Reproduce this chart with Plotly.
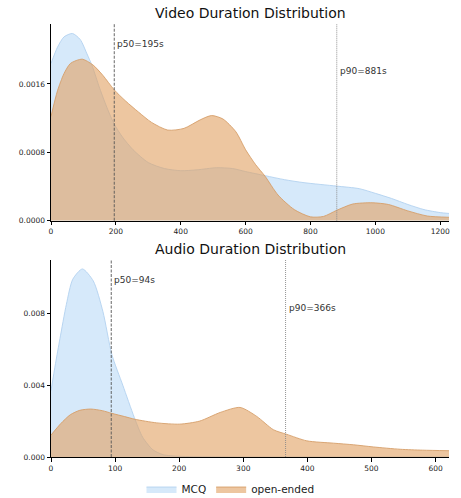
import plotly.graph_objects as go

# ---- data ----
video_mcq_x = [0, 20, 40, 66, 90, 110, 128, 150, 175, 195, 220, 253, 300, 350, 400, 450, 510, 560, 600, 660, 720, 780, 880, 950, 1000, 1050, 1100, 1150, 1200, 1227]
video_mcq_y = [0.00184, 0.00203, 0.00215, 0.00219, 0.00212, 0.00196, 0.00180, 0.00155, 0.00130, 0.00113, 0.00098, 0.00083, 0.00068, 0.00061, 0.000585, 0.000595, 0.000620, 0.000610, 0.000575, 0.000527, 0.000480, 0.000445, 0.000405, 0.000375, 0.00032, 0.00026, 0.00019, 0.00013, 0.000095, 0.000085]

video_open_x = [0, 20, 40, 60, 96, 130, 160, 195, 230, 270, 310, 360, 410, 460, 495, 530, 570, 600, 630, 660, 700, 750, 800, 840, 880, 930, 990, 1040, 1100, 1160, 1227]
video_open_y = [0.00122, 0.00152, 0.00172, 0.00184, 0.00189, 0.00182, 0.00170, 0.00153, 0.00140, 0.00127, 0.00115, 0.00106, 0.00108, 0.00118, 0.00123, 0.00119, 0.00104, 0.00083, 0.00066, 0.00052, 0.00030, 0.00013, 0.000045, 0.00005, 0.00012, 0.000195, 0.00021, 0.00019, 0.000115, 0.000055, 0.00004]

audio_mcq_x = [0, 7, 14, 24, 34, 49, 66, 81, 95, 112, 130, 143, 159, 175, 200, 250, 621]
audio_mcq_y = [0.0037, 0.0052, 0.0066, 0.0085, 0.0099, 0.01047, 0.0098, 0.0081, 0.0057, 0.0040, 0.0022, 0.0011, 0.0004, 0.00013, 0.00004, 0.00001, 0.0]

audio_open_x = [0, 15, 30, 45, 62, 80, 95, 115, 131, 165, 201, 232, 264, 295, 321, 347, 368, 399, 441, 472, 503, 545, 580, 621]
audio_open_y = [0.00122, 0.00185, 0.00235, 0.00260, 0.00267, 0.00258, 0.00243, 0.00225, 0.00210, 0.00190, 0.00183, 0.00200, 0.00248, 0.00276, 0.00226, 0.00152, 0.00126, 0.00090, 0.00077, 0.00068, 0.00056, 0.00043, 0.00038, 0.00035]

video_p50, video_p90 = 195, 881
audio_p50, audio_p90 = 94, 366

titles = ["Video Duration Distribution", "Audio Duration Distribution"]
series_names = ["MCQ", "open-ended"]

# ---- styles ----
FONT = "DejaVu Sans"
mcq_fill = "rgba(187,218,247,0.6)"
mcq_line = "rgba(178,210,240,0.9)"
open_fill = "rgba(225,160,97,0.6)"
open_line = "rgba(214,158,105,0.9)"

fig = go.Figure()

def add_pair(mx, my, ox, oy, xa, ya, show):
    fig.add_trace(go.Scatter(x=mx, y=my, mode="lines", fill="tozeroy",
                             fillcolor=mcq_fill, line=dict(color=mcq_line, width=1, shape="spline", smoothing=0.7),
                             name=series_names[0], showlegend=show, legendgroup="mcq",
                             xaxis=xa, yaxis=ya, hoverinfo="skip"))
    fig.add_trace(go.Scatter(x=ox, y=oy, mode="lines", fill="tozeroy",
                             fillcolor=open_fill, line=dict(color=open_line, width=1, shape="spline", smoothing=0.7),
                             name=series_names[1], showlegend=show, legendgroup="open",
                             xaxis=xa, yaxis=ya, hoverinfo="skip"))

add_pair(video_mcq_x, video_mcq_y, video_open_x, video_open_y, "x", "y", True)
add_pair(audio_mcq_x, audio_mcq_y, audio_open_x, audio_open_y, "x2", "y2", False)

axis_common = dict(showgrid=False, zeroline=False, showline=True, linecolor="black", linewidth=1,
                   ticks="outside", ticklen=3.5, tickwidth=0.8, tickcolor="black",
                   tickfont=dict(family=FONT, size=7.5, color="#222"), mirror=False, automargin=False)

fig.update_layout(
    width=461, height=498,
    margin=dict(l=51, r=12, t=24, b=41, autoexpand=False),
    paper_bgcolor="white", plot_bgcolor="white",
    font=dict(family=FONT, color="#222"),
    xaxis=dict(domain=[0, 1], anchor="y", range=[0, 1227], tickvals=[0, 200, 400, 600, 800, 1000, 1200], **axis_common),
    yaxis=dict(domain=[0.5457, 1], anchor="x", range=[0, 0.002301], tickvals=[0, 0.0008, 0.0016], tickformat=".4f", **axis_common),
    xaxis2=dict(domain=[0, 1], anchor="y2", range=[0, 621], tickvals=[0, 100, 200, 300, 400, 500, 600], **axis_common),
    yaxis2=dict(domain=[0, 0.455], anchor="x2", range=[0, 0.01097], tickvals=[0, 0.004, 0.008], tickformat=".3f", **axis_common),
    legend=dict(orientation="h", xref="container", yref="container", x=0.5, y=0.018,
                xanchor="center", yanchor="middle", font=dict(family=FONT, size=10.5, color="#222"),
                itemwidth=30, tracegroupgap=0, bgcolor="rgba(0,0,0,0)"),
    showlegend=True,
)

# percentile lines
for xa, ya, p50, p90 in [("x", "y", video_p50, video_p90), ("x2", "y2", audio_p50, audio_p90)]:
    fig.add_shape(type="line", xref=xa, yref=ya + " domain", x0=p50, x1=p50, y0=0, y1=1,
                  line=dict(color="#555", width=0.9, dash="3px,1.5px"))
    fig.add_shape(type="line", xref=xa, yref=ya + " domain", x0=p90, x1=p90, y0=0, y1=1,
                  line=dict(color="#888", width=0.9, dash="1px,1px"))

ann_font = dict(family=FONT, size=9, color="#333")
for xa, ya, p50, p90, y50, y90 in [("x", "y", video_p50, video_p90, 0.002067, 0.00175),
                                   ("x2", "y2", audio_p50, audio_p90, 0.00986, 0.00832)]:
    fig.add_annotation(x=p50, y=y50, xref=xa, yref=ya, text=f"p50={p50}s", showarrow=False,
                       xanchor="left", yanchor="middle", xshift=1, font=ann_font)
    fig.add_annotation(x=p90, y=y90, xref=xa, yref=ya, text=f"p90={p90}s", showarrow=False,
                       xanchor="left", yanchor="middle", xshift=1, font=ann_font)

# subplot titles
title_font = dict(family=FONT, size=14, color="#111")
fig.add_annotation(x=0.5, y=1, xref="x domain", yref="y domain", text=titles[0], showarrow=False,
                   xanchor="center", yanchor="bottom", yshift=1, font=title_font)
fig.add_annotation(x=0.5, y=1, xref="x2 domain", yref="y2 domain", text=titles[1], showarrow=False,
                   xanchor="center", yanchor="bottom", yshift=1, font=title_font)

fig.write_html("out.html", config={"displayModeBar": False},
               post_script="document.body.style.margin='0';document.body.style.padding='0';")
